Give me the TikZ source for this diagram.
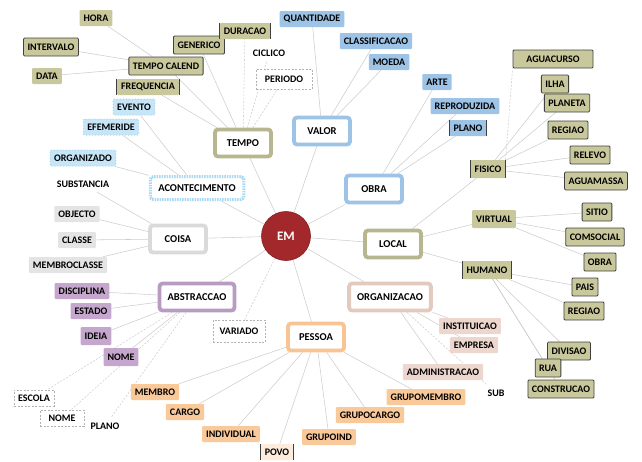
\documentclass[tikz,border=0pt]{standalone}
\usepackage{fontspec}
\setmainfont{Carlito}
\usetikzlibrary{backgrounds}
\definecolor{khaki}{HTML}{C9C89C}
\definecolor{khakiB}{HTML}{B8B68E}
\definecolor{blueF}{HTML}{9DC3E6}
\definecolor{lblue}{HTML}{C6E5F6}
\definecolor{lblueB}{HTML}{A8D8F2}
\definecolor{greyF}{HTML}{E4E4E4}
\definecolor{greyB}{HTML}{DADADA}
\definecolor{purpF}{HTML}{C5A7CD}
\definecolor{purpB}{HTML}{B89BC2}
\definecolor{pinkF}{HTML}{EDD6CD}
\definecolor{pinkB}{HTML}{E3CABF}
\definecolor{orangeF}{HTML}{F9C999}
\definecolor{orangeB}{HTML}{F8C493}
\definecolor{emred}{HTML}{A3282C}
\definecolor{linkc}{HTML}{CDCDCD}
\newcommand\leaffont{\fontsize{10}{12}\selectfont\bfseries}
\newcommand\mnfont{\fontsize{10.5}{12}\selectfont\bfseries}
\tikzset{
  leaf/.style={font=\leaffont, minimum height=16pt, inner xsep=4pt, inner ysep=2pt, rounded corners=1pt},
  kh/.style={leaf, fill=khaki},
  khd/.style={kh, draw=black!75, line width=0.8pt, minimum height=18pt},
  brk/.style={append after command={(\tikzlastnode.north west) edge[draw=black!75, line width=0.9pt] (\tikzlastnode.south west) (\tikzlastnode.north east) edge[draw=black!75, line width=0.9pt] (\tikzlastnode.south east)}},
  bl/.style={leaf, fill=blueF},
  lb/.style={leaf, fill=lblue, draw=lblueB, line width=1pt, dotted},
  gr/.style={leaf, fill=greyF},
  pu/.style={leaf, fill=purpF},
  pk/.style={leaf, fill=pinkF},
  orl/.style={leaf, fill=orangeF},
  wd/.style={leaf, rounded corners=0pt, fill=white, draw=gray!60, dash pattern=on 2pt off 1.5pt, minimum height=18pt},
  plainleaf/.style={leaf},
  main/.style={font=\mnfont, minimum height=27pt, minimum width=56pt, inner xsep=8pt, line width=3.8pt, rounded corners=3pt, fill=white},
  mkh/.style={main, draw=khakiB},
  mbl/.style={main, draw=blueF},
  mlb/.style={main, draw=lblueB, line width=3pt, dash pattern=on 1.5pt off 1pt, minimum height=23pt},
  mgr/.style={main, draw=greyB},
  mpu/.style={main, draw=purpB},
  mpk/.style={main, draw=pinkB},
  mor/.style={main, draw=orangeB},
  center/.style={circle, fill=emred, draw=emred!80!black, line width=0.6pt, text=white, font=\fontsize{13}{14}\selectfont\bfseries, minimum size=49pt, inner sep=0pt},
  link/.style={draw=linkc, line width=0.55pt},
  dlink/.style={link, dash pattern=on 2pt off 1.5pt},
}
\begin{document}
\begin{tikzpicture}[x=1pt,y=-1pt]
\useasboundingbox (0,0) rectangle (642,461);
% centre and main categories
\node[center] (em) at (286,236) {EM};
\node[mkh] (tempo) at (243,143) {TEMPO};
\node[mbl] (valor) at (322,131) {VALOR};
\node[mbl] (obra) at (374,189) {OBRA};
\node[mlb] (acont) at (197,188) {ACONTECIMENTO};
\node[mgr] (coisa) at (178,239) {COISA};
\node[mkh] (local) at (393,244) {LOCAL};
\node[mpu] (abstr) at (197,297) {ABSTRACCAO};
\node[mpk] (org) at (390,297) {ORGANIZACAO};
\node[mor] (pessoa) at (316,337) {PESSOA};
\node[wd, minimum width=52pt, minimum height=22pt] (variado) at (239,331) {VARIADO};
% tempo
\node[kh] (hora) at (96,18) {HORA};
\node[khd] (intervalo) at (51,47) {INTERVALO};
\node[kh] (data) at (47,76) {DATA};
\node[khd] (tcal) at (166,66) {TEMPO CALEND};
\node[kh, brk] (freq) at (148,87) {FREQUENCIA};
\node[khd] (generico) at (199,45) {GENERICO};
\node[kh, brk] (duracao) at (245,31) {DURACAO};
\node[plainleaf] (ciclico) at (269,53) {CICLICO};
\node[wd, minimum width=56pt, minimum height=20pt] (periodo) at (284,79) {PERIODO};
% valor / obra
\node[bl] (quant) at (312,19) {QUANTIDADE};
\node[bl] (classif) at (376,41) {CLASSIFICACAO};
\node[bl] (moeda) at (389,62) {MOEDA};
\node[bl] (arte) at (437,82) {ARTE};
\node[bl] (reprod) at (465,106) {REPRODUZIDA};
\node[bl, brk] (plano) at (468,128) {PLANO};
% acontecimento
\node[lb] (evento) at (134,107) {EVENTO};
\node[lb] (efem) at (111,127) {EFEMERIDE};
\node[lb] (organizado) at (83,158) {ORGANIZADO};
% coisa
\node[plainleaf] (subst) at (83,184) {SUBSTANCIA};
\node[gr] (objecto) at (77,214) {OBJECTO};
\node[gr] (classe) at (77,240) {CLASSE};
\node[gr] (membrocl) at (68,265) {MEMBROCLASSE};
% abstraccao
\node[pu] (disc) at (82,291) {DISCIPLINA};
\node[pu] (estado) at (91,311) {ESTADO};
\node[pu, minimum height=18pt] (ideia) at (96,336) {IDEIA};
\node[pu, minimum height=18pt] (nome) at (121,357) {NOME};
\node[wd, minimum height=16pt] (escola) at (34,398) {ESCOLA};
\node[wd, minimum height=16pt, minimum width=44pt] (nomeb) at (62,418) {NOME};
\node[plainleaf] (planob) at (105,426) {PLANO};
% pessoa
\node[orl] (membro) at (155,392) {MEMBRO};
\node[orl] (cargo) at (185,412) {CARGO};
\node[orl] (individual) at (231,434) {INDIVIDUAL};
\node[leaf, fill=orangeF!35, brk] (povo) at (277,452) {POVO};
\node[orl] (grupoind) at (329,437) {GRUPOIND};
\node[orl] (grupocargo) at (370,415) {GRUPOCARGO};
\node[orl] (grupomembro) at (426,397) {GRUPOMEMBRO};
% organizacao
\node[pk] (instit) at (470,326) {INSTITUICAO};
\node[pk] (empresa) at (474,345) {EMPRESA};
\node[pk] (admin) at (443,372) {ADMINISTRACAO};
\node[plainleaf] (sub) at (496,393) {SUB};
% local
\node[kh, brk, minimum height=18pt] (fisico) at (488,169) {FISICO};
\node[kh, minimum height=18pt] (virtual) at (494,219) {VIRTUAL};
\node[kh, brk, minimum height=18pt] (humano) at (487,270) {HUMANO};
\node[khd, minimum width=80pt] (aguacurso) at (553,59) {AGUACURSO};
\node[khd] (ilha) at (555,84) {ILHA};
\node[khd] (planeta) at (567,103) {PLANETA};
\node[khd] (regiao) at (568,130) {REGIAO};
\node[khd] (relevo) at (590,155) {RELEVO};
\node[khd] (aguamassa) at (596,181) {AGUAMASSA};
\node[khd] (sitio) at (597,212) {SITIO};
\node[khd] (comsocial) at (595,237) {COMSOCIAL};
\node[khd] (obrab) at (600,262) {OBRA};
\node[khd] (pais) at (585,287) {PAIS};
\node[khd] (regiaob) at (584,311) {REGIAO};
\node[khd] (divisao) at (569,351) {DIVISAO};
\node[khd] (rua) at (548,368) {RUA};
\node[khd] (construcao) at (561,389) {CONSTRUCAO};
\begin{pgfonlayer}{background}
\foreach \n in {tempo,valor,obra,acont,coisa,local,abstr,org,pessoa} \draw[link] (em) -- (\n);
\draw[dlink] (em) -- (variado);
\foreach \n in {generico,tcal,freq} \draw[link] (tempo) -- (\n);
\foreach \n in {duracao,ciclico,periodo} \draw[dlink] (tempo) -- (\n);
\foreach \n in {hora,intervalo,data} \draw[link] (tcal) -- (\n);
\foreach \n in {quant,classif,moeda} \draw[link] (valor) -- (\n);
\foreach \n in {arte,reprod,plano} \draw[link] (obra) -- (\n);
\foreach \n in {evento,efem,organizado} \draw[link] (acont) -- (\n);
\foreach \n in {subst,objecto,classe,membrocl} \draw[link] (coisa) -- (\n);
\foreach \n in {disc,estado,ideia,nome} \draw[link] (abstr) -- (\n);
\foreach \n in {escola,nomeb,planob} \draw[dlink] (abstr) -- (\n);
\foreach \n in {membro,cargo,individual,povo,grupoind,grupocargo,grupomembro} \draw[link] (pessoa) -- (\n);
\foreach \n in {instit,empresa,admin} \draw[link] (org) -- (\n);
\draw[dlink] (org) -- (sub);
\foreach \n in {fisico,virtual,humano} \draw[link] (local) -- (\n);
\draw[dlink] (fisico.north east) -- (aguacurso.south west);
\foreach \n in {ilha,planeta,regiao,relevo,aguamassa} \draw[link] (fisico) -- (\n);
\foreach \n in {sitio,comsocial,obrab} \draw[link] (virtual) -- (\n);
\foreach \n in {pais,regiaob,divisao,rua,construcao} \draw[link] (humano) -- (\n);
\end{pgfonlayer}
\end{tikzpicture}
\end{document}
